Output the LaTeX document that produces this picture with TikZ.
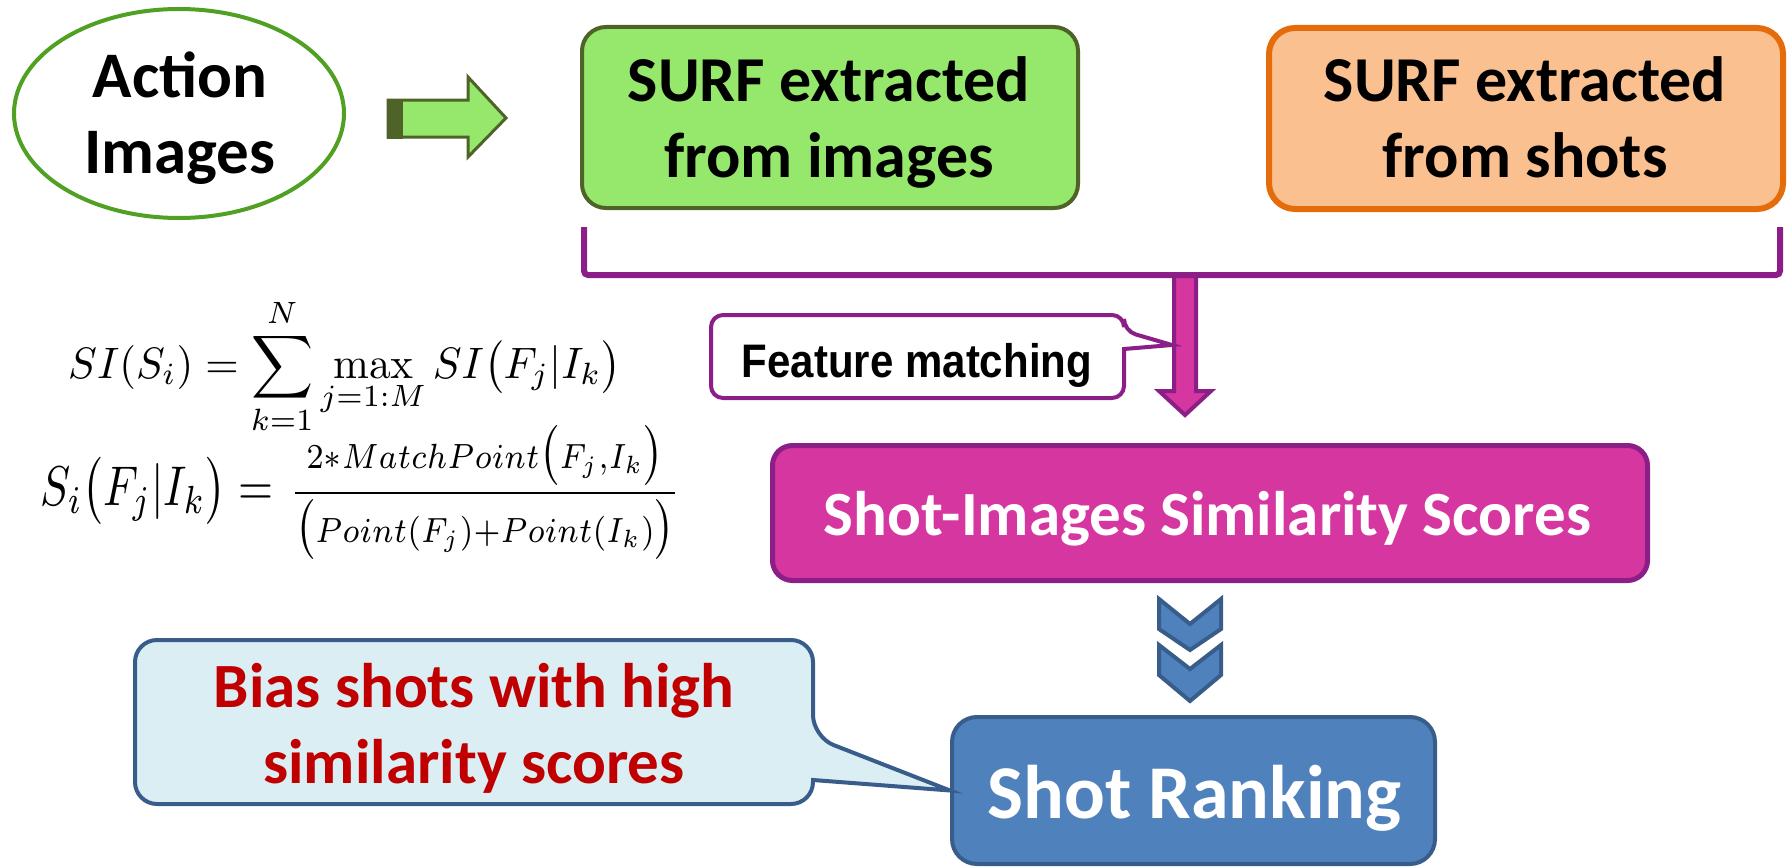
\documentclass[tikz,border=0pt]{standalone}
\usepackage{graphicx}
\usepackage[no-math]{fontspec}
\setmainfont{Carlito}
\newfontfamily\gothic{Liberation Sans}
\usetikzlibrary{shapes.geometric}
\definecolor{elgreen}{RGB}{80,160,35}
\definecolor{olive}{RGB}{79,98,40}
\definecolor{lgreen}{RGB}{150,232,108}
\definecolor{orfill}{RGB}{250,192,144}
\definecolor{orline}{RGB}{228,108,10}
\definecolor{purp}{RGB}{140,30,135}
\definecolor{magf}{RGB}{214,54,160}
\definecolor{bluef}{RGB}{79,129,189}
\definecolor{bluel}{RGB}{56,93,138}
\definecolor{calf}{RGB}{219,238,244}
\definecolor{redt}{RGB}{192,0,0}
\begin{document}
\begin{tikzpicture}[x=1pt,y=-1pt,
  txt/.style={anchor=base, inner sep=0pt, font=\bfseries\fontsize{#1}{#1}\selectfont},
  rbox/.style={inner sep=0pt, rounded corners=#1},
  chev/.style={draw=bluel, fill=bluef, line width=4pt, line join=miter},
  mathtxt/.style={anchor=base west, inner sep=0pt}]
\useasboundingbox (0,0) rectangle (1789,867);

% Action Images ellipse
\node[ellipse, draw=elgreen, line width=4pt, minimum width=330pt, minimum height=209pt, inner sep=0pt] (act) at (179,113.5) {};
\node[txt=65] (a1) at (180,98) {Action};
\node[txt=65] (a2) at (180,173) {Images};

% green block arrow
\draw[draw=olive, fill=lgreen, line width=3pt, line join=miter] (388,100) -- (468,100) -- (468,77) -- (506,118) -- (468,157) -- (468,137) -- (388,137) -- cycle;
\fill[olive] (387,98.5) rectangle (403,138.5);

% SURF boxes
\node[rbox=24pt, draw=olive, fill=lgreen, line width=4pt, minimum width=496pt, minimum height=181pt] (gbox) at (830,117.5) {};
\node[txt=64] (g1) at (829,102) {SURF extracted};
\node[txt=64] (g2) at (829,177) {from images};

\node[rbox=26pt, draw=orline, fill=orfill, line width=6pt, minimum width=514pt, minimum height=181pt] (obox) at (1526,118.5) {};
\node[txt=64] (o1) at (1525,102) {SURF extracted};
\node[txt=64] (o2) at (1525,177) {from shots};

% magenta down arrow
\coordinate (fmtip) at (1172,345);
\draw[draw=purp, fill=magf, line width=4pt, line join=miter] (1174,275) -- (1174,391) -- (1159,391) -- (1185,415) -- (1211,391) -- (1196,391) -- (1196,275) -- cycle;

% bracket
\coordinate (bl) at (584,227);
\coordinate (br) at (1780,227);
\draw[purp, line width=6pt, rounded corners=4pt] (bl) -- (584,275) -- (1780,275) -- (br);

% Feature matching callout
\draw[draw=purp, fill=white, line width=4pt, rounded corners=12pt] (711,315) -- (1124,315) -- (1124,331) [sharp corners] -- (fmtip) -- (1124,349) [rounded corners=12pt] -- (1124,398) -- (711,398) -- cycle;
\node[anchor=base, inner sep=0pt, font=\gothic\bfseries\fontsize{42}{42}\selectfont] (fmt) at (917,377) {\scalebox{1}[1.12]{Feature matching}};

% Shot-Images Similarity Scores
\node[rbox=20pt, draw=purp, fill=magf, line width=5pt, minimum width=875pt, minimum height=135pt] (sis) at (1210,513) {};
\node[txt=63, text=white] (sist) at (1207.5,535) {Shot-Images Similarity Scores};

% chevrons
\draw[chev] (1159,599) -- (1190,624) -- (1221,599) -- (1221,629) -- (1190,650) -- (1159,629) -- cycle;
\draw[chev] (1159,645) -- (1190,669) -- (1221,645) -- (1221,675) -- (1190,701) -- (1159,675) -- cycle;

% Shot Ranking
\node[rbox=25pt, draw=bluel, fill=bluef, line width=4pt, minimum width=483pt, minimum height=147pt] (rank) at (1193.5,790.5) {};
\node[txt=76, text=white] (rankt) at (1194.5,818) {Shot Ranking};

% Bias callout
\draw[draw=bluel, fill=calf, line width=4pt, rounded corners=22pt] (135,640) -- (813,640) -- (813,737) [sharp corners] -- (rank.west) -- (813,780) [rounded corners=22pt] -- (813,804) -- (135,804) -- cycle;
\node[txt=63, text=redt] (b1) at (474,707) {Bias shots with high};
\node[txt=63, text=redt] (b2) at (474,783) {similarity scores};

% formulas
\node[mathtxt] (f1) at (68,378) {\scalebox{4.3}[4.4]{$\displaystyle SI(S_i)=\sum_{k=1}^{N}\max_{j=1:M}SI\bigl(F_j|I_k\bigr)$}};
\node[mathtxt] (f2) at (40,505) {\scalebox{4.5}[5.6]{$S_i\bigl(F_j|I_k\bigr)=$}\hspace{16pt}\scalebox{4.4}[5]{$\displaystyle\frac{\scriptstyle 2*MatchPoint\bigl(F_j,I_k\bigr)}{\scriptstyle\bigl(Point(F_j)+Point(I_k)\bigr)}$}};
\end{tikzpicture}
\end{document}
